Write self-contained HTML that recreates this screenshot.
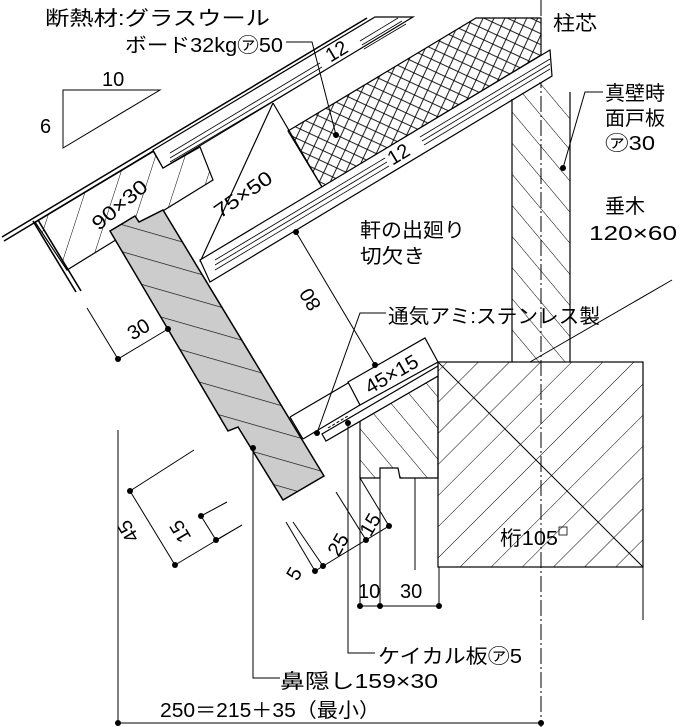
<!DOCTYPE html>
<html><head><meta charset="utf-8"><style>
html,body{margin:0;padding:0;background:#fff;}
svg{display:block;}
text{font-family:"Liberation Sans","Noto Sans CJK JP",sans-serif;font-size:20px;fill:#000;}
</style></head><body>
<svg width="684" height="727" viewBox="0 0 684 727" xmlns="http://www.w3.org/2000/svg">
<defs>
<pattern id="h90" width="28" height="28" patternUnits="userSpaceOnUse" patternTransform="rotate(18)"><line x1="0" y1="0" x2="0" y2="28" stroke="#000" stroke-width="1"/></pattern>
<pattern id="hfas" width="40" height="26" patternUnits="userSpaceOnUse" patternTransform="rotate(16)"><line x1="0" y1="0" x2="40" y2="0" stroke="#000" stroke-width="1.2"/></pattern>
<pattern id="hpost" width="20" height="20" patternUnits="userSpaceOnUse" patternTransform="rotate(-40)"><line x1="0" y1="0" x2="0" y2="20" stroke="#000" stroke-width="1"/></pattern>
<pattern id="hblock" width="20" height="20" patternUnits="userSpaceOnUse" patternTransform="rotate(-40)"><line x1="0" y1="0" x2="0" y2="20" stroke="#000" stroke-width="1"/></pattern>
<pattern id="hbeam" width="22" height="22" patternUnits="userSpaceOnUse" patternTransform="rotate(45)"><line x1="0" y1="0" x2="0" y2="22" stroke="#000" stroke-width="1"/></pattern>
<pattern id="hins" width="14" height="14" patternUnits="userSpaceOnUse" patternTransform="rotate(-20)"><path d="M0 0 L14 14 M14 0 L0 14" stroke="#000" stroke-width="0.9"/></pattern>
</defs>
<g fill="none" stroke="#000" stroke-width="1.2">
<line x1="541" y1="0" x2="541" y2="727" stroke-width="1" stroke-dasharray="16 3 2 3"/>
<path d="M63 90 L160 90 L63 148 Z" stroke-width="1"/>
<line x1="2" y1="237" x2="367" y2="18" stroke-width="1.5"/>
<line x1="4" y1="241" x2="372" y2="20" stroke-width="1.5"/>
<polygon points="35,222 153,151 163,168 200,147 213,180 67,270" fill="url(#h90)"/>
<line x1="33" y1="221" x2="76" y2="292" stroke-width="1.6"/>
<line x1="38" y1="220" x2="81" y2="291" stroke-width="1.6"/>
<polygon points="153,150 375,17 413,17 163,168" fill="#fff"/>
<line x1="170" y1="153" x2="320" y2="63" stroke-width="0.8"/>
<line x1="170" y1="158" x2="322" y2="67" stroke-width="0.8"/>
<line x1="170" y1="162" x2="324" y2="71" stroke-width="0.8"/>
<line x1="360" y1="41" x2="398" y2="18" stroke-width="0.8"/>
<line x1="362" y1="45" x2="402" y2="21" stroke-width="0.8"/>
<line x1="364" y1="49" x2="406" y2="24" stroke-width="0.8"/>
<line x1="273" y1="103" x2="200" y2="262"/>
<line x1="273" y1="103" x2="322" y2="187"/>
<polygon points="288,131 476,18 541,18 541,55 322,187" fill="url(#hins)"/>
<polygon points="200,260 550,50 552,76 210,282" fill="#fff"/>
<line x1="215" y1="260" x2="385" y2="158" stroke-width="0.8"/>
<line x1="215" y1="265" x2="387" y2="162" stroke-width="0.8"/>
<line x1="215" y1="270" x2="389" y2="166" stroke-width="0.8"/>
<line x1="420" y1="137" x2="550" y2="59" stroke-width="0.8"/>
<line x1="422" y1="141" x2="550" y2="64" stroke-width="0.8"/>
<line x1="424" y1="145" x2="550" y2="69" stroke-width="0.8"/>
<polygon points="512,99 548,77 570,90 570,362 512,362" fill="url(#hpost)" stroke="none"/>
<line x1="512" y1="99" x2="512" y2="362"/>
<line x1="570" y1="92" x2="570" y2="362"/>
<line x1="672" y1="280" x2="530" y2="362" stroke-width="1"/>
<rect x="438" y="362" width="205" height="205" fill="url(#hbeam)"/>
<line x1="438" y1="362" x2="643" y2="567" stroke-width="1"/>
<line x1="643" y1="567" x2="643" y2="620" stroke-width="1"/>
<polygon points="360,421 438,376 438,478 400,478 398,468 380,468 380,478 360,478" fill="url(#hblock)"/>
<line x1="290" y1="417" x2="425" y2="338"/>
<line x1="290" y1="417" x2="303" y2="439"/>
<line x1="303" y1="439" x2="360" y2="405"/>
<polygon points="348,382 425,338 438,362 360,405" fill="#fff"/>
<polygon points="322,434 438,366 438,376 326,441" fill="#fff"/>
<line x1="328" y1="428" x2="348" y2="416" stroke-width="1" stroke-dasharray="3 2"/>
<polygon points="110,231 135,216 139,222 163,210 324,476 283,500 238,427 228,431" fill="#ccc" stroke-width="1.5"/>
<polygon points="110,231 135,216 139,222 163,210 324,476 283,500 238,427 228,431" fill="url(#hfas)" stroke="none"/>
<line x1="360" y1="478" x2="360" y2="606" stroke-width="1"/>
<line x1="380" y1="478" x2="380" y2="606" stroke-width="1"/>
<line x1="415" y1="478" x2="415" y2="570" stroke-width="1"/>
<line x1="439" y1="567" x2="439" y2="606" stroke-width="1"/>
<line x1="360" y1="606" x2="439" y2="606" stroke-width="1"/>
<g stroke-width="1">
<path d="M286 42 L312 42 L336 135"/>
<path d="M603 92 L585 92 L563 168"/>
<path d="M386 313 L360 313 L317 433"/>
<line x1="296" y1="232" x2="375" y2="365"/>
<path d="M348 423 L348 653 L375 653"/>
<path d="M253 448 L253 678 L280 678"/>
<line x1="87" y1="308" x2="118" y2="359"/>
<line x1="118" y1="359" x2="168" y2="329"/>
<line x1="118" y1="430" x2="118" y2="723"/>
<line x1="118" y1="723" x2="541" y2="723"/>
<line x1="130" y1="491" x2="194" y2="450"/>
<line x1="130" y1="491" x2="175" y2="565"/>
<line x1="175" y1="565" x2="242" y2="525"/>
<line x1="201" y1="516" x2="227" y2="502"/>
<line x1="201" y1="516" x2="216" y2="540"/>
<line x1="216" y1="540" x2="242" y2="525"/>
<line x1="286" y1="522" x2="315" y2="571"/>
<line x1="293" y1="522" x2="323" y2="566"/>
<line x1="336" y1="492" x2="366" y2="540"/>
<line x1="360" y1="478" x2="389" y2="526"/>
<line x1="315" y1="571" x2="389" y2="526"/>
</g>
</g>
<g fill="#000">
<circle cx="336" cy="135" r="3"/><circle cx="563" cy="168" r="3"/><circle cx="296" cy="232" r="3"/>
<circle cx="375" cy="365" r="3"/><circle cx="317" cy="433" r="3"/><circle cx="348" cy="423" r="3"/>
<circle cx="253" cy="448" r="3"/><circle cx="118" cy="359" r="3"/><circle cx="168" cy="329" r="3"/>
<circle cx="130" cy="491" r="3"/><circle cx="175" cy="565" r="3"/><circle cx="201" cy="516" r="3"/>
<circle cx="216" cy="540" r="3"/><circle cx="315" cy="571" r="3"/><circle cx="323" cy="566" r="3"/>
<circle cx="366" cy="540" r="3"/><circle cx="389" cy="526" r="3"/><circle cx="360" cy="606" r="3"/>
<circle cx="380" cy="606" r="3"/><circle cx="439" cy="606" r="3"/><circle cx="118" cy="723" r="3"/>
<circle cx="541" cy="723" r="3"/>
</g>
<g>
<text x="45" y="25" textLength="225" lengthAdjust="spacingAndGlyphs">断熱材:グラスウール</text>
<text x="125" y="52" textLength="158" lengthAdjust="spacingAndGlyphs">ボード32kg㋐50</text>
<text x="102" y="86">10</text>
<text x="40" y="133">6</text>
<text x="553" y="30" textLength="44" lengthAdjust="spacingAndGlyphs">柱芯</text>
<text x="605" y="100" textLength="60" lengthAdjust="spacingAndGlyphs">真壁時</text>
<text x="605" y="125" textLength="60" lengthAdjust="spacingAndGlyphs">面戸板</text>
<text x="605" y="150" textLength="50" lengthAdjust="spacingAndGlyphs">㋐30</text>
<text x="605" y="213" textLength="40" lengthAdjust="spacingAndGlyphs">垂木</text>
<text x="589" y="240" textLength="88" lengthAdjust="spacingAndGlyphs">120×60</text>
<text x="360" y="237" textLength="105" lengthAdjust="spacingAndGlyphs">軒の出廻り</text>
<text x="360" y="263" textLength="65" lengthAdjust="spacingAndGlyphs">切欠き</text>
<text x="388" y="323" textLength="212" lengthAdjust="spacingAndGlyphs">通気アミ:ステンレス製</text>
<text x="500" y="545" textLength="58" lengthAdjust="spacingAndGlyphs">桁105</text>
<rect x="559" y="527" width="8" height="8" fill="none" stroke="#000" stroke-width="0.8"/>
<text x="378" y="663" textLength="144" lengthAdjust="spacingAndGlyphs">ケイカル板㋐5</text>
<text x="280" y="688" textLength="158" lengthAdjust="spacingAndGlyphs">鼻隠し159×30</text>
<text x="160" y="717" textLength="220" lengthAdjust="spacingAndGlyphs">250＝215＋35（最小）</text>
<text x="358" y="598">10</text>
<text x="400" y="598">30</text>
<text text-anchor="middle" transform="translate(340,57) rotate(-31)">12</text>
<text text-anchor="middle" transform="translate(402,160) rotate(-31)">12</text>
<text text-anchor="middle" transform="translate(124,210) rotate(-40)" textLength="66" lengthAdjust="spacingAndGlyphs">90×30</text>
<text text-anchor="middle" transform="translate(247,200) rotate(-35)" textLength="66" lengthAdjust="spacingAndGlyphs">75×50</text>
<text text-anchor="middle" transform="translate(395,380) rotate(-30)" textLength="58" lengthAdjust="spacingAndGlyphs">45×15</text>
<text text-anchor="middle" transform="translate(142,335) rotate(-31)">30</text>
<text text-anchor="middle" transform="translate(316,296) rotate(-121)">80</text>
<text text-anchor="middle" transform="translate(134,528) rotate(-121)">45</text>
<text text-anchor="middle" transform="translate(186,528) rotate(-121)">15</text>
<text text-anchor="middle" transform="translate(300,577) rotate(-60)">5</text>
<text text-anchor="middle" transform="translate(344,548) rotate(-60)">25</text>
<text text-anchor="middle" transform="translate(376,528) rotate(-60)">15</text>
</g>
</svg>
</body></html>
